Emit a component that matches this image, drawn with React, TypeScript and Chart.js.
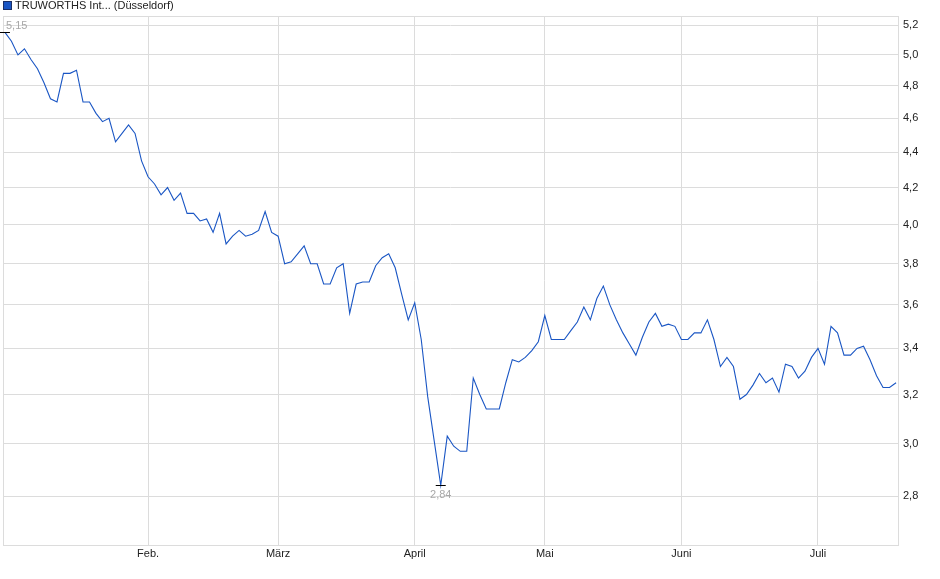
import { useEffect, useRef } from "react"
import { Chart, registerables } from "chart.js"

Chart.register(...registerables)

const seriesLabel = "TRUWORTHS Int... (Düsseldorf)"

// daily closes, one per trading day (Jan .. mid July)
const prices = [
  5.15, 5.09, 5.0, 5.04, 4.97, 4.91, 4.82, 4.72, 4.7, 4.88,
  4.88, 4.9, 4.7, 4.7, 4.63, 4.58, 4.6, 4.46, 4.51, 4.56,
  4.51, 4.35, 4.26, 4.22, 4.16, 4.2, 4.13, 4.17, 4.06, 4.06,
  4.02, 4.03, 3.96, 4.06, 3.9, 3.94, 3.97, 3.94, 3.95, 3.97,
  4.07, 3.96, 3.94, 3.8, 3.81, 3.85, 3.89, 3.8, 3.8, 3.7,
  3.7, 3.78, 3.8, 3.56, 3.7, 3.71, 3.71, 3.79, 3.83, 3.85,
  3.78, 3.65, 3.53, 3.61, 3.44, 3.19, 3.01, 2.84, 3.03, 2.99,
  2.97, 2.97, 3.27, 3.2, 3.14, 3.14, 3.14, 3.25, 3.35, 3.34,
  3.36, 3.39, 3.43, 3.55, 3.44, 3.44, 3.44, 3.48, 3.52, 3.59,
  3.53, 3.63, 3.69, 3.6, 3.53, 3.47, 3.42, 3.37, 3.45, 3.52,
  3.56, 3.5, 3.51, 3.5, 3.44, 3.44, 3.47, 3.47, 3.53, 3.44,
  3.32, 3.36, 3.32, 3.18, 3.2, 3.24, 3.29, 3.25, 3.27, 3.21,
  3.33, 3.32, 3.27, 3.3, 3.36, 3.4, 3.33, 3.5, 3.47, 3.37,
  3.37, 3.4, 3.41, 3.35, 3.28, 3.23, 3.23, 3.25,
]

const monthLabels = ["Feb.", "März", "April", "Mai", "Juni", "Juli"]
const monthStarts = [22, 42, 63, 83, 104, 125]
const yTicks = [2.8, 3.0, 3.2, 3.4, 3.6, 3.8, 4.0, 4.2, 4.4, 4.6, 4.8, 5.0, 5.2]

const lineColor = "#1a56c4"
const gridColor = "#dcdcdc"
const fontFamily = "Arial, 'Liberation Sans', sans-serif"

const fmt = (v: number, digits: number) => v.toFixed(digits).replace(".", ",")

// frame around the plot area
const framePlugin = {
  id: "frame",
  beforeDatasetsDraw(chart: Chart) {
    const { ctx, chartArea } = chart
    ctx.save()
    ctx.strokeStyle = gridColor
    ctx.lineWidth = 1
    ctx.strokeRect(
      Math.round(chartArea.left) + 0.5,
      Math.round(chartArea.top) + 0.5,
      Math.round(chartArea.right - chartArea.left),
      Math.round(chartArea.bottom - chartArea.top)
    )
    ctx.restore()
  },
}

// high / low markers with value labels
const hiLoPlugin = {
  id: "hiLo",
  afterDatasetsDraw(chart: Chart) {
    const { ctx, scales, chartArea } = chart
    const xs = scales.x
    const ys = scales.y
    let hi = 0
    let lo = 0
    prices.forEach((v, i) => {
      if (v > prices[hi]) hi = i
      if (v < prices[lo]) lo = i
    })
    ctx.save()
    ctx.font = `11px ${fontFamily}`
    ctx.lineWidth = 1
    const mark = (i: number, above: boolean) => {
      const px = xs.getPixelForValue(i)
      const py = Math.round(ys.getPixelForValue(prices[i])) + 0.5
      ctx.strokeStyle = "#000"
      ctx.beginPath()
      ctx.moveTo(px - 5, py)
      ctx.lineTo(px + 5, py)
      ctx.stroke()
      const text = fmt(prices[i], 2)
      const w = ctx.measureText(text).width
      let tx = px - w / 2
      if (tx < chartArea.left + 3) tx = chartArea.left + 3
      ctx.fillStyle = "#a8a8a8"
      ctx.textAlign = "left"
      if (above) {
        ctx.textBaseline = "bottom"
        ctx.fillText(text, tx, py - 1)
      } else {
        ctx.textBaseline = "top"
        ctx.fillText(text, tx, py + 4)
      }
    }
    mark(hi, true)
    mark(lo, false)
    ctx.restore()
  },
}

// small legend above the plot
const legendPlugin = {
  id: "miniLegend",
  afterDraw(chart: Chart) {
    const { ctx } = chart
    ctx.save()
    ctx.fillStyle = lineColor
    ctx.fillRect(3.5, 1.5, 8, 8)
    ctx.strokeStyle = "#1b2f66"
    ctx.lineWidth = 1
    ctx.strokeRect(3.5, 1.5, 8, 8)
    ctx.fillStyle = "#222"
    ctx.font = `11px ${fontFamily}`
    ctx.textAlign = "left"
    ctx.textBaseline = "middle"
    ctx.fillText(seriesLabel, 15, 6)
    ctx.restore()
  },
}

export default function App() {
  const chartRef = useRef<HTMLCanvasElement>(null)
  const chartInstance = useRef<Chart | null>(null)

  useEffect(() => {
    document.body.style.margin = "0"
    if (!chartRef.current) return
    if (chartInstance.current) chartInstance.current.destroy()

    chartInstance.current = new Chart(chartRef.current, {
      type: "line",
      data: {
        datasets: [
          {
            label: seriesLabel,
            data: prices.map((y, x) => ({ x, y })),
            borderColor: lineColor,
            borderWidth: 1.1,
            pointRadius: 0,
            tension: 0,
          },
        ],
      },
      options: {
        animation: false,
        responsive: true,
        maintainAspectRatio: false,
        layout: { padding: { left: 3, top: 16, right: 0, bottom: 0 } },
        plugins: {
          legend: { display: false },
          tooltip: { enabled: false },
        },
        scales: {
          x: {
            type: "linear",
            min: -0.3,
            max: 137.3,
            afterBuildTicks: (scale: any) => {
              scale.ticks = monthStarts.map((value) => ({ value }))
            },
            afterFit: (scale: any) => {
              scale.height = 34
            },
            grid: { color: gridColor, tickLength: 0 },
            border: { color: gridColor },
            ticks: {
              autoSkip: false,
              maxRotation: 0,
              padding: 2,
              color: "#222",
              font: { family: fontFamily, size: 11 },
              callback: (v: any) => {
                const k = monthStarts.indexOf(Number(v))
                return k >= 0 ? monthLabels[k] : ""
              },
            },
          },
          y: {
            type: "logarithmic",
            position: "right",
            min: 2.626,
            max: 5.262,
            afterBuildTicks: (scale: any) => {
              scale.ticks = yTicks.map((value) => ({ value }))
            },
            afterFit: (scale: any) => {
              scale.width = 42
            },
            grid: { color: gridColor, drawTicks: false },
            border: { color: "#c8c8c8" },
            ticks: {
              padding: 5,
              color: "#222",
              font: { family: fontFamily, size: 11 },
              callback: (v: any) => fmt(Number(v), 1),
            },
          },
        },
      },
      plugins: [framePlugin, hiLoPlugin, legendPlugin],
    })

    return () => {
      if (chartInstance.current) {
        chartInstance.current.destroy()
        chartInstance.current = null
      }
    }
  }, [])

  return (
    <div style={{ width: 940, height: 579, position: "relative" }}>
      <canvas ref={chartRef} />
    </div>
  )
}
